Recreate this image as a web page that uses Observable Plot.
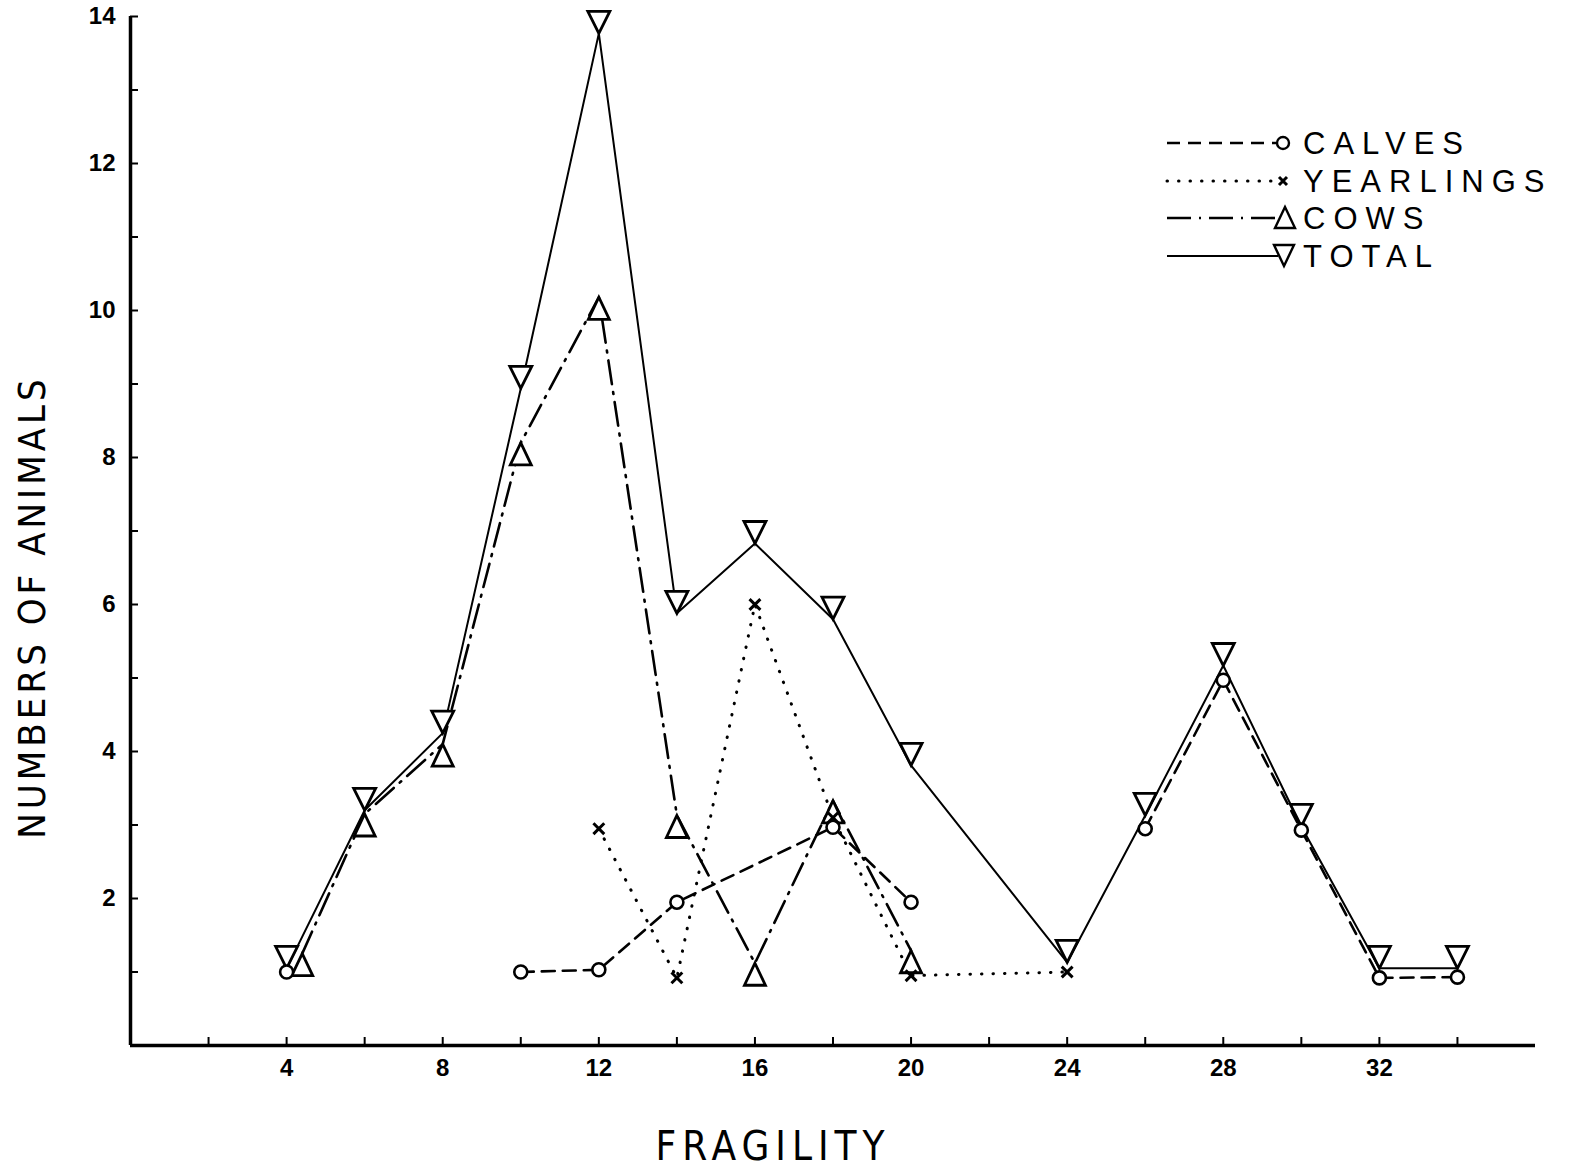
<!DOCTYPE html>
<html>
<head>
<meta charset="utf-8">
<script src="https://cdn.jsdelivr.net/npm/d3@7"></script>
<script src="https://cdn.jsdelivr.net/npm/@observablehq/plot@0.6"></script>
<style>
  html, body { margin: 0; padding: 0; background: #fff; overflow: hidden; }
  #wrap { position: relative; width: 1578px; height: 1167px; }
  #legend { position: absolute; left: 0; top: 0; }
</style>
</head>
<body>
<div id="wrap"></div>
<script>
// ---- data ----
const calvesX = [4, 10, 12, 14, 18, 20, 26, 28, 30, 32, 34];
const calvesY = [1, 1, 1.03, 1.95, 2.97, 1.95, 2.95, 4.97, 2.93, 0.92, 0.93];
const calvesSeg = ["a", "b", "b", "b", "b", "b", "c", "c", "c", "c", "c"];

const yearlingsX = [12, 14, 16, 18, 20, 24];
const yearlingsY = [2.95, 0.92, 6, 3.1, 0.95, 1];

const cowsX = [4.4, 6, 8, 10, 12, 14, 16, 18, 20];
const cowsY = [1.25, 3.15, 4.1, 8.2, 10.18, 3.13, 1.12, 3.33, 1.29];

const totalX = [4, 6, 8, 10, 12, 14, 16, 18, 20, 24, 26, 28, 30, 32, 34];
const totalY = [1.05, 3.2, 4.25, 8.94, 13.77, 5.88, 6.83, 5.8, 3.81, 1.13, 3.13, 5.17, 2.98, 1.05, 1.05];

const seriesNames = ["CALVES", "YEARLINGS", "COWS", "TOTAL"];
const xTicks = [2, 4, 6, 8, 10, 12, 14, 16, 18, 20, 22, 24, 26, 28, 30, 32, 34];
const xLabels = [4, 8, 12, 16, 20, 24, 28, 32];
const yTicks = [1, 2, 3, 4, 5, 6, 7, 8, 9, 10, 11, 12, 13, 14];
const yLabels = [2, 4, 6, 8, 10, 12, 14];
const xTitle = "FRAGILITY";
const yTitle = "NUMBERS OF ANIMALS";

// ---- build tables ----
const calves = calvesX.map((x, i) => ({x, y: calvesY[i], seg: calvesSeg[i]}));
const yearlings = yearlingsX.map((x, i) => ({x, y: yearlingsY[i]}));
const cows = cowsX.map((x, i) => ({x, y: cowsY[i]}));
const total = totalX.map((x, i) => ({x, y: totalY[i]}));

// custom symbols: triangle vertex sits on the data point
const triDown = {draw(ctx, size) { const r = Math.sqrt(size / Math.PI); ctx.moveTo(0, 0); ctx.lineTo(-r, -2 * r); ctx.lineTo(r, -2 * r); ctx.closePath(); }};
const triUp = {draw(ctx, size) { const r = Math.sqrt(size / Math.PI); ctx.moveTo(0, 0); ctx.lineTo(-r, 2.1 * r); ctx.lineTo(r, 2.1 * r); ctx.closePath(); }};

const styles = {
  CALVES: {dash: "13,8", width: 2.6, cap: "butt"},
  YEARLINGS: {dash: "0.5,11", width: 3, cap: "round"},
  COWS: {dash: "24,8,2,8", width: 2.6, cap: "butt"},
  TOTAL: {dash: null, width: 2, cap: "butt"}
};

const chart = Plot.plot({
  width: 1578,
  height: 1167,
  marginLeft: 130,
  marginRight: 43,
  marginTop: 16,
  marginBottom: 122,
  style: {fontFamily: "'Liberation Sans', Arial, sans-serif", background: "#fff", color: "#000"},
  x: {domain: [0, 36]},
  y: {domain: [0, 14]},
  marks: [
    // ticks (inward)
    Plot.axisX({ticks: xTicks, tickSize: -8, tickFormat: () => "", label: null, strokeWidth: 2}),
    Plot.axisY({ticks: yTicks, tickSize: -8, tickFormat: () => "", label: null, strokeWidth: 2}),
    Plot.axisX({ticks: xLabels, tickSize: 0, tickPadding: 13, fontSize: 24, fontWeight: "bold", label: null}),
    Plot.axisY({ticks: yLabels, tickSize: 0, tickPadding: 15, fontSize: 24, fontWeight: "bold", label: null}),
    Plot.ruleX([0], {strokeWidth: 3.5}),
    Plot.ruleY([0], {strokeWidth: 3.5}),
    // lines
    Plot.line(total, {x: "x", y: "y", stroke: "#000", strokeWidth: styles.TOTAL.width}),
    Plot.line(cows, {x: "x", y: "y", stroke: "#000", strokeWidth: styles.COWS.width, strokeDasharray: styles.COWS.dash}),
    Plot.line(yearlings, {x: "x", y: "y", stroke: "#000", strokeWidth: styles.YEARLINGS.width, strokeDasharray: styles.YEARLINGS.dash, strokeLinecap: "round"}),
    Plot.line(calves, {x: "x", y: "y", z: "seg", stroke: "#000", strokeWidth: styles.CALVES.width, strokeDasharray: styles.CALVES.dash}),
    // markers
    Plot.dot(total, {x: "x", y: "y", symbol: triDown, r: 11, fill: "#fff", stroke: "#000", strokeWidth: 2.8}),
    Plot.dot(cows, {x: "x", y: "y", symbol: triUp, r: 10.5, fill: "#fff", stroke: "#000", strokeWidth: 2.8}),
    Plot.dot(calves, {x: "x", y: "y", r: 6.5, fill: "#fff", stroke: "#000", strokeWidth: 2.6}),
    Plot.dot(yearlings, {x: "x", y: "y", symbol: "times", r: 5, stroke: "#000", strokeWidth: 3}),
    // titles
    Plot.text([xTitle], {frameAnchor: "bottom", dx: -60, dy: 114, fontSize: 40, fill: "#000"}),
    Plot.text([yTitle], {frameAnchor: "left", textAnchor: "middle", dx: -98, dy: 76, rotate: -90, fontSize: 38, fill: "#000"})
  ]
});

document.getElementById("wrap").appendChild(chart);

// title styling
d3.select(chart).selectAll("text").each(function () {
  const t = this.textContent;
  if (t === xTitle) d3.select(this).attr("font-family", "'Liberation Sans Narrow', 'DejaVu Sans Condensed', sans-serif").style("letter-spacing", "6px").attr("font-weight", "normal");
  if (t === yTitle) d3.select(this).attr("font-family", "'Liberation Sans Narrow', 'DejaVu Sans Condensed', sans-serif").style("letter-spacing", "4px").attr("font-weight", "normal");
});

// ---- legend overlay ----
const lg = d3.select("#wrap").append("svg").attr("id", "legend").attr("width", 1578).attr("height", 300);
const rowY = [143, 181, 218, 256];
seriesNames.forEach((name, i) => {
  const s = styles[name];
  const y = rowY[i];
  const g = lg.append("g");
  g.append("line").attr("x1", 1167).attr("x2", name === "TOTAL" ? 1278 : 1276).attr("y1", y).attr("y2", y)
    .attr("stroke", "#000").attr("stroke-width", s.width).attr("stroke-dasharray", s.dash).attr("stroke-linecap", s.cap);
  if (name === "CALVES") g.append("circle").attr("cx", 1283).attr("cy", y).attr("r", 6).attr("fill", "#fff").attr("stroke", "#000").attr("stroke-width", 2.4);
  if (name === "YEARLINGS") g.append("path").attr("d", `M${1279},${y - 4}L${1287},${y + 4}M${1287},${y - 4}L${1279},${y + 4}`).attr("stroke", "#000").attr("stroke-width", 3);
  if (name === "COWS") g.append("path").attr("d", `M1285,${y - 11}L1275,${y + 10}L1295,${y + 10}Z`).attr("fill", "none").attr("stroke", "#000").attr("stroke-width", 2.4);
  if (name === "TOTAL") g.append("path").attr("d", `M1284,${y + 10}L1274,${y - 11}L1294,${y - 11}Z`).attr("fill", "none").attr("stroke", "#000").attr("stroke-width", 2.4);
  g.append("text").attr("x", 1303).attr("y", y).attr("dy", "0.36em").attr("font-family", "'Liberation Sans', Arial, sans-serif")
    .attr("font-size", 31).style("letter-spacing", "8px").text(name);
});
</script>
</body>
</html>
